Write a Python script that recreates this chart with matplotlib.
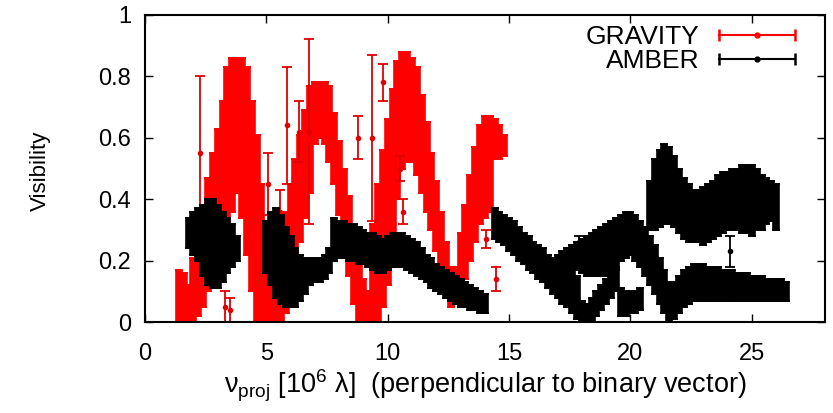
import matplotlib
matplotlib.use("Agg")
import matplotlib.pyplot as plt
import numpy as np
from matplotlib.lines import Line2D
from matplotlib.legend_handler import HandlerLine2D

plt.rcParams['font.family'] = ['Liberation Sans', 'DejaVu Sans']
plt.rcParams['mathtext.fontset'] = 'custom'
plt.rcParams['mathtext.rm'] = 'Liberation Sans'
plt.rcParams['mathtext.default'] = 'regular'

# GRAVITY band: x, lower and upper limit of the dense cloud of points
grav_x = [1.4, 1.6, 1.8, 2.0, 2.2, 2.4, 2.6, 2.8, 3.0, 3.2, 3.4, 3.6, 3.8, 4.0, 4.2, 4.4, 4.6, 4.8, 5.0, 5.2,
          5.4, 5.6, 5.8, 6.0, 6.2, 6.4, 6.6, 6.8, 7.0, 7.2, 7.4, 7.6, 7.8, 8.0, 8.2, 8.4, 8.6, 8.8, 9.0, 9.2,
          9.4, 9.6, 9.8, 10.0, 10.2, 10.4, 10.6, 10.8, 11.0, 11.2, 11.4, 11.6, 11.8, 12.0, 12.2, 12.4, 12.6, 12.8,
          13.0, 13.2, 13.4, 13.6, 13.8, 14.0, 14.2, 14.4, 14.6, 14.8]
grav_lo = [0.00, 0.00, 0.00, 0.00, 0.02, 0.05, 0.10, 0.15, 0.20, 0.25, 0.30, 0.36, 0.42, 0.34, 0.22, 0.10, 0.00, 0.00, 0.00, 0.00,
           0.00, 0.00, 0.03, 0.10, 0.18, 0.26, 0.34, 0.42, 0.58, 0.60, 0.58, 0.52, 0.45, 0.35, 0.25, 0.15, 0.06, 0.00, 0.00, 0.00,
           0.00, 0.00, 0.05, 0.12, 0.20, 0.40, 0.50, 0.52, 0.52, 0.48, 0.42, 0.36, 0.30, 0.23, 0.16, 0.09, 0.05, 0.06,
           0.08, 0.14, 0.20, 0.26, 0.32, 0.34, 0.36, 0.53, 0.53, 0.54]
grav_hi = [0.17, 0.16, 0.12, 0.21, 0.29, 0.38, 0.47, 0.55, 0.63, 0.72, 0.83, 0.86, 0.86, 0.86, 0.83, 0.72, 0.61, 0.45, 0.29, 0.14,
           0.16, 0.25, 0.36, 0.45, 0.53, 0.61, 0.69, 0.77, 0.78, 0.78, 0.78, 0.77, 0.68, 0.59, 0.50, 0.41, 0.32, 0.23, 0.14, 0.10,
           0.32, 0.45, 0.56, 0.66, 0.76, 0.85, 0.88, 0.88, 0.86, 0.83, 0.74, 0.65, 0.55, 0.46, 0.36, 0.26, 0.18, 0.18,
           0.29, 0.38, 0.48, 0.57, 0.64, 0.67, 0.67, 0.66, 0.64, 0.61]

# GRAVITY isolated points with visible error bars
grav_out_x = [2.25, 3.3, 3.5, 5.05, 5.55, 5.85, 6.35, 6.75, 8.77, 9.35, 9.8, 10.5, 10.65, 14.05, 14.45]
grav_out_v = [0.55, 0.05, 0.04, 0.45, 0.36, 0.64, 0.62, 0.62, 0.60, 0.60, 0.78, 0.50, 0.36, 0.27, 0.14]
grav_out_e = [0.25, 0.05, 0.04, 0.10, 0.07, 0.19, 0.10, 0.30, 0.07, 0.27, 0.06, 0.04, 0.04, 0.03, 0.04]

# AMBER bands
amb_x = [1.8, 2.0, 2.2, 2.4, 2.6, 2.8, 3.0, 3.2, 3.4, 3.6, 3.8,
         5.0, 5.2, 5.4, 5.6, 5.8, 6.0, 6.2, 6.4, 6.6, 6.8, 7.0, 7.2, 7.4, 7.6,
         7.8, 8.0, 8.2, 8.4, 8.6, 8.8, 9.0, 9.2, 9.4, 9.6, 9.8, 10.0, 10.2, 10.4, 10.6, 10.8, 11.0, 11.2,
         11.4, 11.6, 11.8, 12.0, 12.2, 12.4, 12.6, 12.8, 13.0, 13.2, 13.4, 13.6, 13.8, 14.0,
         14.4, 14.6, 14.8, 15.0, 15.2, 15.4, 15.6, 15.8, 16.0, 16.2, 16.4, 16.6, 16.8, 17.0, 17.2, 17.4, 17.6,
         17.8, 18.0, 18.2, 18.4, 18.6, 18.8, 19.0, 19.2, 19.4,
         17.8, 18.0, 18.2, 18.4, 18.6, 18.8, 19.0, 19.2, 19.4,
         19.6, 19.8, 20.0, 20.2, 20.4,
         19.6, 19.8, 20.0, 20.2, 20.4, 20.6, 20.8, 21.0, 21.2, 21.4, 21.6, 21.8, 22.0, 22.2, 22.4,
         22.6, 22.8, 23.0, 23.2, 23.4, 23.6, 23.8, 24.0, 24.2, 24.4, 24.6, 24.8, 25.0, 25.2, 25.4, 25.6, 25.8,
         26.0, 26.2, 26.4,
         20.8, 21.0, 21.2, 21.4, 21.6, 21.8, 22.0, 22.2, 22.4, 22.6, 22.8, 23.0, 23.2, 23.4, 23.6, 23.8, 24.0,
         24.2, 24.4, 24.6, 24.8, 25.0, 25.2, 25.4, 25.6, 25.8, 26.0]
amb_lo = [0.24, 0.22, 0.20, 0.15, 0.12, 0.11, 0.11, 0.13, 0.16, 0.18, 0.20,
          0.16, 0.12, 0.08, 0.06, 0.05, 0.05, 0.05, 0.07, 0.09, 0.12, 0.13, 0.13, 0.14, 0.16,
          0.20, 0.21, 0.21, 0.20, 0.20, 0.19, 0.19, 0.18, 0.17, 0.16, 0.16, 0.17, 0.18, 0.18, 0.18, 0.17, 0.16, 0.15,
          0.14, 0.13, 0.11, 0.10, 0.09, 0.08, 0.07, 0.06, 0.05, 0.05, 0.04, 0.04, 0.03, 0.03,
          0.27, 0.26, 0.25, 0.23, 0.22, 0.20, 0.19, 0.17, 0.16, 0.14, 0.13, 0.11, 0.09, 0.08, 0.06, 0.05, 0.03,
          0.01, 0.00, 0.00, 0.00, 0.02, 0.04, 0.06, 0.08, 0.10,
          0.17, 0.16, 0.15, 0.15, 0.15, 0.15, 0.15, 0.16, 0.17,
          0.02, 0.02, 0.03, 0.03, 0.04,
          0.20, 0.21, 0.22, 0.20, 0.18, 0.15, 0.12, 0.09, 0.06, 0.03, 0.00, 0.01, 0.03, 0.05, 0.06,
          0.07, 0.07, 0.07, 0.07, 0.07, 0.07, 0.07, 0.07, 0.07, 0.07, 0.07, 0.07, 0.07, 0.07, 0.07, 0.07, 0.07,
          0.07, 0.07, 0.07,
          0.30, 0.30, 0.31, 0.32, 0.32, 0.31, 0.29, 0.27, 0.26, 0.26, 0.26, 0.25, 0.26, 0.27, 0.28, 0.29, 0.30,
          0.30, 0.30, 0.29, 0.29, 0.28, 0.30, 0.30, 0.32, 0.33, 0.30]
amb_hi = [0.34, 0.36, 0.37, 0.38, 0.40, 0.40, 0.38, 0.36, 0.34, 0.32, 0.28,
          0.33, 0.36, 0.37, 0.35, 0.31, 0.28, 0.24, 0.22, 0.21, 0.21, 0.21, 0.21, 0.22, 0.24,
          0.34, 0.33, 0.33, 0.32, 0.32, 0.31, 0.30, 0.29, 0.29, 0.28, 0.27, 0.28, 0.29, 0.29, 0.29, 0.28, 0.27, 0.26,
          0.24, 0.22, 0.21, 0.19, 0.18, 0.17, 0.16, 0.15, 0.14, 0.13, 0.12, 0.11, 0.10, 0.09,
          0.37, 0.36, 0.35, 0.34, 0.33, 0.31, 0.29, 0.28, 0.26, 0.25, 0.24, 0.22, 0.21, 0.22, 0.23, 0.24, 0.25,
          0.15, 0.07, 0.06, 0.08, 0.10, 0.12, 0.14, 0.16, 0.18,
          0.26, 0.27, 0.28, 0.29, 0.30, 0.31, 0.32, 0.33, 0.34,
          0.11, 0.10, 0.10, 0.10, 0.11,
          0.35, 0.36, 0.36, 0.35, 0.33, 0.31, 0.28, 0.25, 0.21, 0.17, 0.13, 0.13, 0.15, 0.17, 0.18,
          0.19, 0.19, 0.19, 0.18, 0.18, 0.18, 0.17, 0.17, 0.17, 0.16, 0.16, 0.16, 0.15, 0.15, 0.15, 0.14, 0.14,
          0.14, 0.14, 0.13,
          0.46, 0.53, 0.56, 0.58, 0.57, 0.54, 0.50, 0.47, 0.45, 0.43, 0.43, 0.44, 0.45, 0.46, 0.48, 0.49, 0.49,
          0.50, 0.50, 0.51, 0.51, 0.51, 0.50, 0.48, 0.47, 0.46, 0.45]

amb_out_x = [24.1, 17.9]
amb_out_v = [0.23, 0.26]
amb_out_e = [0.05, 0.02]

fig = plt.figure(figsize=(8.33, 4.13), dpi=100)
ax = fig.add_axes([0.174, 0.22, 0.816, 0.744])


def band(x, lo, hi, color, z):
    lo = np.array(lo)
    hi = np.array(hi)
    ax.errorbar(x, (lo + hi) / 2, yerr=(hi - lo) / 2, fmt='o', ms=2.5, color=color,
                elinewidth=5.5, capsize=3, capthick=1.4, zorder=z)


band(grav_x, grav_lo, grav_hi, 'red', 2)
ax.errorbar(grav_out_x, grav_out_v, yerr=grav_out_e, fmt='o', ms=3, color='#e00000',
            elinewidth=1.3, capsize=3.5, capthick=1.3, zorder=2)
band(amb_x, amb_lo, amb_hi, 'black', 3)
ax.errorbar(amb_out_x, amb_out_v, yerr=amb_out_e, fmt='o', ms=3, color='black',
            elinewidth=1.3, capsize=3.5, capthick=1.3, zorder=3)

ax.set_xlim(0, 28)
ax.set_ylim(0, 1)
ax.set_xticks([0, 5, 10, 15, 20, 25])
ax.set_yticks([0, 0.2, 0.4, 0.6, 0.8, 1])
ax.set_yticklabels(['0', '0.2', '0.4', '0.6', '0.8', '1'])
ax.tick_params(direction='in', top=True, right=True, length=6, width=1, labelsize=17)
ax.tick_params(axis='x', pad=15)
ax.tick_params(axis='y', pad=10)
for s in ax.spines.values():
    s.set_linewidth(1.5)

ax.set_xlabel(r'$\nu_{proj}$ [10$^{6}$ λ]  (perpendicular to binary vector)', fontsize=19.5)
ax.xaxis.set_label_coords(0.5, -0.15)
ax.set_ylabel('Visibility', fontsize=16)
ax.yaxis.set_label_coords(-0.139, 0.494)

# legend like gnuplot: text first, then horizontal bar with caps and a dot
g_caps = Line2D([], [], color='red', lw=1.5, marker='|', ms=9, mew=1.8)
g_dot = Line2D([], [], color='red', ls='none', marker='o', ms=3.5)
a_caps = Line2D([], [], color='black', lw=1.5, marker='|', ms=9, mew=1.8)
a_dot = Line2D([], [], color='black', ls='none', marker='o', ms=3.5)
hmap = {g_caps: HandlerLine2D(numpoints=2), a_caps: HandlerLine2D(numpoints=2),
        g_dot: HandlerLine2D(numpoints=1), a_dot: HandlerLine2D(numpoints=1)}
ax.legend([(g_caps, g_dot), (a_caps, a_dot)], ['GRAVITY', 'AMBER'], handler_map=hmap,
          loc='upper right', bbox_to_anchor=(0.988, 1.01), borderaxespad=0.1, frameon=False,
          markerfirst=False, fontsize=19, handlelength=3.5, handletextpad=0.45, labelspacing=0.0)

fig.savefig('out.png', dpi=100)
